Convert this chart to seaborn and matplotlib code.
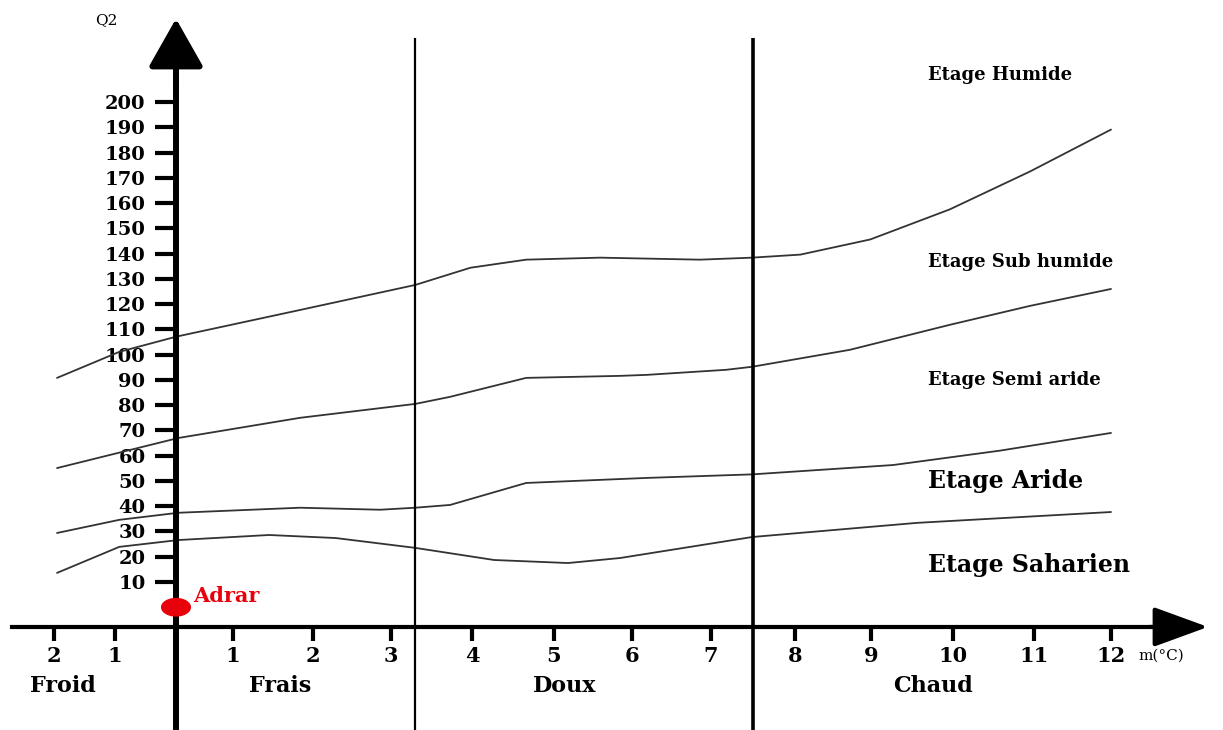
import numpy as np
import pandas as pd
import matplotlib
matplotlib.use("Agg")
import matplotlib.pyplot as plt
import seaborn as sns

# ---------------- data ----------------
m_ticks = [-2, -1, 1, 2, 3, 4, 5, 6, 7, 8, 9, 10, 11, 12]
m_tick_labels = ["2", "1", "1", "2", "3", "4", "5", "6", "7", "8", "9", "10", "11", "12"]
q2_ticks = list(range(10, 201, 10))

# limit curves between climatic stages (m in degC, Q2)
humide_x = [-1.95, -0.93, 0.0, 1.84, 3.3, 3.98, 4.66, 5.59, 6.86, 7.49, 8.07, 8.99, 9.96, 10.95, 12.0]
humide_y = [90.8, 101.1, 107.1, 117.7, 127.6, 134.4, 137.6, 138.4, 137.6, 138.4, 139.6, 145.6, 157.5, 172.5, 189.1]

subhum_x = [-1.95, 0.04, 1.84, 3.3, 3.73, 3.98, 4.66, 5.85, 6.19, 7.18, 7.49, 8.72, 9.96, 10.95, 12.0]
subhum_y = [55.1, 67.0, 75.0, 80.5, 83.3, 85.3, 90.8, 91.6, 92.0, 94.0, 95.2, 101.9, 111.8, 119.3, 126.0]

semiar_x = [-1.95, -0.93, 0.04, 1.84, 2.86, 3.3, 3.73, 4.66, 6.19, 7.49, 9.27, 10.58, 12.0]
semiar_y = [29.4, 34.6, 37.4, 39.4, 38.6, 39.4, 40.5, 49.2, 51.2, 52.6, 56.3, 62.0, 69.0]

aride_x = [-1.95, -0.93, 0.04, 1.45, 2.29, 3.3, 4.27, 5.18, 5.85, 7.49, 9.56, 12.0]
aride_y = [13.6, 23.9, 26.6, 28.6, 27.4, 23.5, 18.7, 17.5, 19.5, 27.8, 33.4, 37.7]

zone_bounds = [3.3, 7.5]
zone_names = ["Froid", "Frais", "Doux", "Chaud"]
zone_centers = [-1.85, 1.59, 5.14, 9.76]

etage_names = ["Etage Humide", "Etage Sub humide", "Etage Semi aride", "Etage Aride", "Etage Saharien"]
etage_q2 = [210.8, 136.7, 90.0, 50.0, 16.8]
etage_sizes = [13, 13, 13, 17, 17]

station_name = ["Adrar"]
station_m = [0.0]
station_q2 = [0.0]

# ---------------- layout helpers ----------------
# the drawing's temperature axis is not evenly spaced: anchor pixel columns
anchor_m = [-4, -2, -1, 0, 1, 2, 3, 4, 5, 6, 7, 8, 9, 10, 11, 12, 15]
anchor_px = [-68, 54, 115, 176, 233, 313, 391, 472, 554, 632, 711, 795, 871, 953, 1034, 1111, 1342]

def fwd(x):
    return np.interp(x, anchor_m, anchor_px)

def inv(p):
    return np.interp(p, anchor_px, anchor_m)

sns.set_style("white")
plt.rcParams["font.family"] = ["DejaVu Serif", "DejaVu Sans"]
plt.rcParams["text.color"] = "black"
plt.rcParams["xtick.color"] = "black"
plt.rcParams["ytick.color"] = "black"
plt.rcParams["axes.labelcolor"] = "black"

fig = plt.figure(figsize=(12.23, 7.30), dpi=100)
ax = fig.add_axes([0, 0, 1, 1])
ax.set_xscale("function", functions=(fwd, inv))
ax.set_xlim(float(inv(0)), float(inv(1223)))
ax.set_ylim(-48.6, 240.4)

curve_color = "#333333"
for xs, ys in [(humide_x, humide_y), (subhum_x, subhum_y), (semiar_x, semiar_y), (aride_x, aride_y)]:
    df = pd.DataFrame({"m": xs, "Q2": ys})
    sns.lineplot(data=df, x="m", y="Q2", sort=False, estimator=None, color=curve_color, lw=1.3, ax=ax)

# zone boundaries
ax.vlines(zone_bounds[0], -48.6, 225.4, color="black", lw=1.6)
ax.vlines(zone_bounds[1], -48.6, 225.4, color="black", lw=2.6)

# axes as spines through origin
x_axis_q2 = -7.8
for s in ["top", "right"]:
    ax.spines[s].set_visible(False)
ax.spines["left"].set_position(("data", 0))
ax.spines["bottom"].set_position(("data", x_axis_q2))
ax.spines["left"].set_linewidth(4.3)
ax.spines["bottom"].set_linewidth(3.0)
ax.spines["left"].set_color("black")
ax.spines["bottom"].set_color("black")
ax.spines["left"].set_bounds(-48.6, 222)
ax.spines["bottom"].set_bounds(float(inv(12)), 12.9)
ax.spines["left"].set_zorder(5)
ax.spines["bottom"].set_zorder(5)

ax.set_yticks(q2_ticks)
ax.set_yticklabels([str(v) for v in q2_ticks], fontsize=14, fontweight="bold", color="black")
ax.set_xticks(m_ticks)
ax.set_xticklabels(m_tick_labels, fontsize=15, fontweight="bold", color="black")
ax.tick_params(axis="y", direction="out", length=15, width=3, pad=7, colors="black", left=True)
ax.tick_params(axis="x", direction="out", length=10, width=3, pad=4, colors="black", bottom=True)
ax.set_xlabel("")
ax.set_ylabel("")
ax.grid(False)

# arrow heads
ax.annotate("", xy=(0, 233.0), xytext=(0, 205), xycoords="data",
            arrowprops=dict(arrowstyle="-|>,head_length=1.5,head_width=0.85", mutation_scale=20,
                            lw=4.3, color="black", shrinkA=0, shrinkB=0), zorder=6)
ax.annotate("", xy=(float(inv(1208)), x_axis_q2), xytext=(12.5, x_axis_q2), xycoords="data",
            arrowprops=dict(arrowstyle="-|>,head_length=1.7,head_width=0.62", mutation_scale=20,
                            lw=3.0, color="black", shrinkA=0, shrinkB=0), zorder=6)

# axis names
ax.text(float(inv(106)), 232.5, "Q2", fontsize=11, ha="center", va="center", color="black")
ax.text(float(inv(1138)), -19.0, "m(°C)", fontsize=11, ha="left", va="center", color="black")

# zone names
for name, xc in zip(zone_names, zone_centers):
    ax.text(xc, -31.0, name, fontsize=16, fontweight="bold", ha="center", va="center", color="black")

# stage names
for name, q, fs in zip(etage_names, etage_q2, etage_sizes):
    ax.text(float(inv(928)), q, name, fontsize=fs, fontweight="bold", ha="left", va="center", color="black")

# station
t = np.linspace(0, 2 * np.pi, 60)
ell = np.column_stack([1.6 * np.cos(t), np.sin(t)])
sns.scatterplot(x=station_m, y=station_q2, marker=ell, s=470, color="#e8000b",
                edgecolor="none", ax=ax, zorder=7, legend=False)
ax.text(float(inv(193)), station_q2[0] + 4.5, station_name[0], fontsize=15, fontweight="bold",
        color="#e8000b", ha="left", va="center")

fig.savefig("out.png", dpi=100)
